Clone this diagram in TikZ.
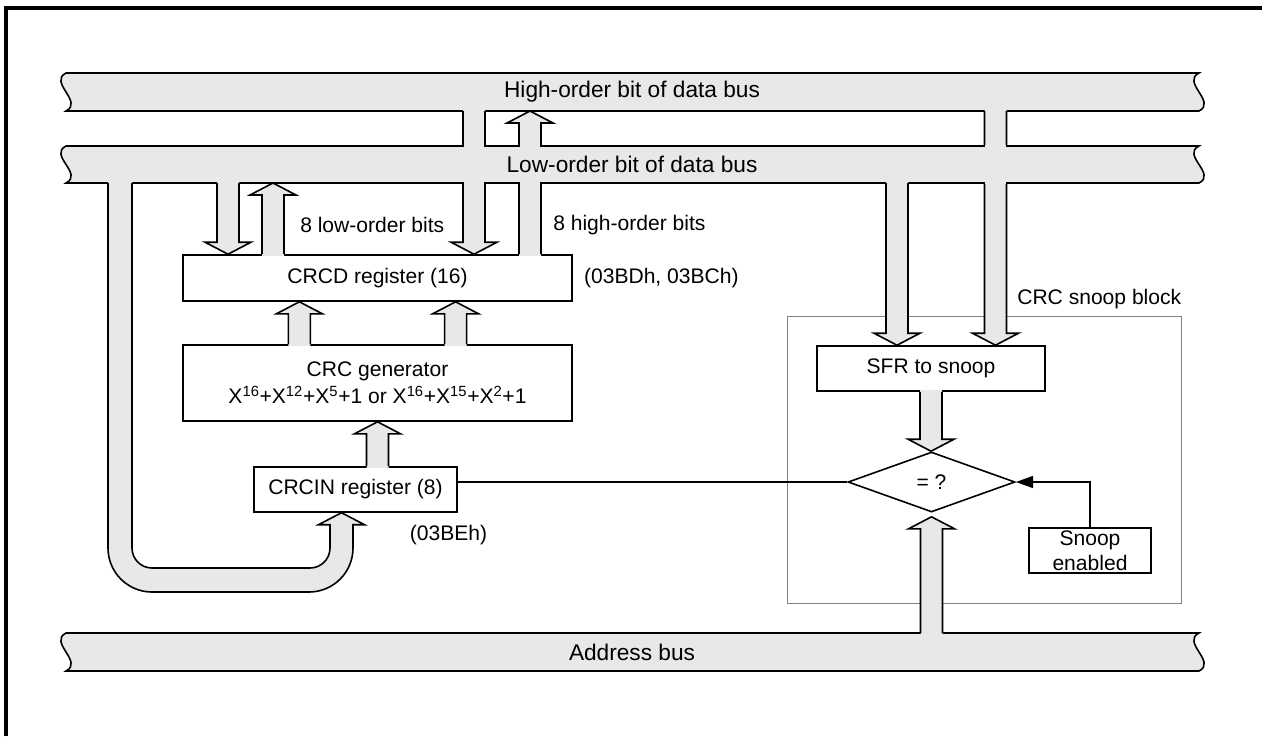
\documentclass[tikz,border=0pt]{standalone}
\usepackage{fontspec}
\setmainfont{Liberation Sans}
\usepackage{tikz}
\usetikzlibrary{arrows.meta, positioning, shapes.geometric, calc}
\definecolor{busgray}{HTML}{E8E8E8}
\definecolor{blockgray}{HTML}{808080}
\newcommand{\regfont}{\fontsize{15.8pt}{18.5pt}\selectfont}
\newcommand{\busfont}{\fontsize{17pt}{20pt}\selectfont}

% bus with wavy ends: name, top, bottom
\newcommand{\databus}[3]{%
  \draw[busline, fill=busgray] (66,#2) -- (1199,#2)
    .. controls (1181,#2+9) and (1217,#3-9) .. (1199,#3) -- (66,#3)
    .. controls (84,#3-9) and (48,#2+9) .. cycle;
  \coordinate (#1) at (632,{(#2+#3)/2});
}
% wide vertical arrow: from #1 to tip #2
\newcommand{\fatarrow}[2]{%
  \fill[busgray] let \p1=(#1), \p2=(#2), \n1={ifthenelse(\y2>\y1,1,-1)} in
    ({\x1-8.25pt},{\y1-1.2pt*(\n1)}) -- ({\x1-8.25pt},{\y2-9pt*(\n1)})
    -- ({\x1-17.25pt},{\y2-9pt*(\n1)}) -- (\x1,\y2)
    -- ({\x1+17.25pt},{\y2-9pt*(\n1)}) -- ({\x1+8.25pt},{\y2-9pt*(\n1)})
    -- ({\x1+8.25pt},{\y1-1.2pt*(\n1)}) -- cycle;
  \draw[busline] let \p1=(#1), \p2=(#2), \n1={ifthenelse(\y2>\y1,1,-1)} in
    ({\x1-8.25pt},\y1) -- ({\x1-8.25pt},{\y2-9pt*(\n1)})
    -- ({\x1-17.25pt},{\y2-9pt*(\n1)}) -- (\x1,\y2)
    -- ({\x1+17.25pt},{\y2-9pt*(\n1)}) -- ({\x1+8.25pt},{\y2-9pt*(\n1)})
    -- ({\x1+8.25pt},\y1);
}
% open the low-order bus where a wide arrow runs through it
\newcommand{\buscut}[1]{%
  \fill[busgray] (#1-10.1,144.8) rectangle (#1+10.1,184.2);
  \fill[busgray] (#1-12.3,147) rectangle (#1+12.3,182);
}

\begin{document}
\begin{tikzpicture}[
    x=0.75pt, y=-0.75pt,
    busline/.style={line width=1.2pt},
    box/.style={rectangle, draw, line width=1.2pt, inner sep=0pt, align=center, font=\regfont},
    decision/.style={diamond, draw, line width=1.2pt, minimum width=125.25pt, minimum height=45pt, inner sep=0pt, font=\regfont},
    note/.style={inner sep=0pt, font=\regfont},
    buslabel/.style={inner sep=0pt, font=\busfont},
    link/.style={line width=1.2pt},
]
\useasboundingbox (0,0) rectangle (1262,736);
\draw[line width=2.6pt] (6.2,736) -- (6.2,8) -- (1262,8);

\node[draw=blockgray, line width=0.7pt, minimum width=295.5pt, minimum height=215.25pt, inner sep=0pt] (block) at (984,459.5) {};
\node[note, anchor=base east] (blocklbl) at ($(block.north east)+(0,-11)$) {CRC snoop block};

\databus{hibus}{73}{111}
\databus{lobus}{146}{183}
\databus{addrbus}{633}{671}

\node[box, minimum width=291.75pt, minimum height=34.5pt] (crcd) at (377.5,278) {CRCD register (16)};
\node[note, right=8.25pt of crcd] (crcdaddr) {(03BDh, 03BCh)};
\node[box, minimum width=291.75pt, minimum height=57pt] (crcgen) at (377.5,383) {CRC generator\\[1.5pt]X\textsuperscript{16}+X\textsuperscript{12}+X\textsuperscript{5}+1 or X\textsuperscript{16}+X\textsuperscript{15}+X\textsuperscript{2}+1};
\node[box, minimum width=152.25pt, minimum height=33.75pt] (crcin) at (355.5,489.5) {CRCIN register (8)};
\node[note, below=9pt of crcin.south east, xshift=-7pt] (crcinaddr) {(03BEh)};
\node[box, minimum width=171pt, minimum height=33.75pt] (sfr) at (931,368.5) {SFR to snoop};
\node[decision] (eq) at (931.5,482) {= ?};
\node[box, minimum width=91.5pt, minimum height=33.75pt] (snoop) at (1090,550.5) {Snoop\\enabled};

\node[note, anchor=west] (lowbits) at (300,225) {8 low-order bits};
\node[note, anchor=west] (highbits) at (553,225) {8 high-order bits};

\coordinate (dlo) at (228,183);
\coordinate (ulo) at (273,183);
\coordinate (dhi) at (474,111);
\coordinate (uhi) at (530,111);
\coordinate (sfrlo) at (897,183);
\coordinate (sfrhi) at (995.5,111);
\coordinate (addr) at (931.5,633);

\fatarrow{dlo}{dlo |- crcd.north}
\fatarrow{ulo |- crcd.north}{ulo}
\fatarrow{dhi}{dhi |- crcd.north}
\fatarrow{uhi |- crcd.north}{uhi}
\fatarrow{$(crcgen.north west)!0.3!(crcgen.north east)$}{$(crcd.south west)!0.3!(crcd.south east)$}
\fatarrow{$(crcgen.north west)!0.7!(crcgen.north east)$}{$(crcd.south west)!0.7!(crcd.south east)$}
\fatarrow{crcgen.south |- crcin.north}{crcgen.south}
\fatarrow{sfrlo}{sfrlo |- sfr.north}
\fatarrow{sfrhi}{sfrhi |- sfr.north}
\fatarrow{sfr.south}{sfr.south |- eq.north}
\fatarrow{addr}{$(addr |- eq.south)+(0,4)$}
\buscut{474}
\buscut{530}
\buscut{995.5}

% loop from low-order bus back into CRCIN
\fill[busgray] (108,181.4) -- (108,548) arc[start angle=180, end angle=270, radius=33pt]
  -- (309,592) arc[start angle=270, end angle=360, radius=33pt]
  -- (353,524.7) -- (364.5,524.7) -- (341.5,512.7) -- (318.5,524.7) -- (330,524.7)
  -- (330,548) arc[start angle=0, end angle=-90, radius=15pt]
  -- (152,568) arc[start angle=270, end angle=180, radius=15pt] -- (132,181.4) -- cycle;
\draw[busline] (108,183) -- (108,548) arc[start angle=180, end angle=270, radius=33pt]
  -- (309,592) arc[start angle=270, end angle=360, radius=33pt]
  -- (353,524.7) -- (364.5,524.7) -- (341.5,512.7) -- (318.5,524.7) -- (330,524.7)
  -- (330,548) arc[start angle=0, end angle=-90, radius=15pt]
  -- (152,568) arc[start angle=270, end angle=180, radius=15pt] -- (132,183);

\draw[link] (crcin.east |- eq.west) -- (eq.west);
\draw[link, -{Triangle[length=13pt, width=9pt]}] (snoop.north) |- (eq.east);

% bus names on top
\node[buslabel] (hilbl) at (hibus) {High-order bit of data bus};
\node[buslabel] (lolbl) at (lobus) {Low-order bit of data bus};
\node[buslabel] (addrlbl) at (addrbus) {Address bus};

\end{tikzpicture}
\end{document}
